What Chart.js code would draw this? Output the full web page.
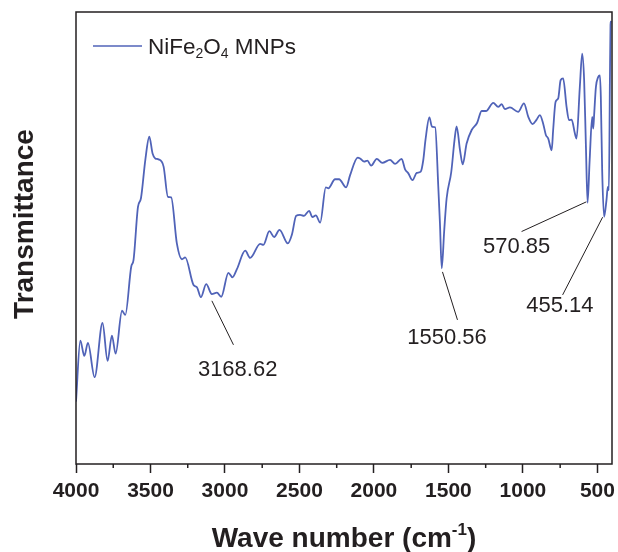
<!DOCTYPE html>
<html>
<head>
<meta charset="utf-8">
<script src="https://cdn.jsdelivr.net/npm/chart.js@4.4.1/dist/chart.umd.min.js"></script>
<style>
    html, body { margin: 0; padding: 0; background: #ffffff; }
    canvas { display: block; }
</style>
</head>
<body>
<canvas id="ftir_chart" width="618" height="552"></canvas>
<script>
// FTIR spectrum (wave number in cm-1, transmittance in arbitrary units)
var wavenumber = [
    4000, 3971, 3944, 3920, 3875, 3822, 3788, 3759, 3734, 3691,
    3669, 3629, 3614, 3584, 3564, 3535, 3508, 3486, 3468, 3446,
    3412, 3383, 3361, 3323, 3289, 3267, 3211, 3188, 3162, 3126,
    3088, 3054, 3025, 2977, 2950, 2920, 2864, 2831, 2764, 2742,
    2702, 2670, 2634, 2578, 2551, 2522, 2496, 2469, 2435, 2413,
    2390, 2361, 2323, 2306, 2261, 2234, 2187, 2160, 2109, 2093,
    2066, 2044, 2019, 1981, 1944, 1892, 1858, 1814, 1791, 1769,
    1741, 1713, 1686, 1669, 1654, 1628, 1610, 1589, 1568, 1557,
    1545, 1528, 1512, 1481, 1459, 1445, 1422, 1404, 1378, 1344,
    1307, 1277, 1248, 1199, 1166, 1143, 1121, 1087, 1032, 993,
    964, 935, 908, 886, 864, 846, 830, 807, 797, 781,
    763, 747, 730, 707, 691, 673, 651, 640, 618, 602,
    589, 577, 566, 552, 535, 528, 522, 510, 495, 483,
    477, 468, 455, 439, 430, 423, 416, 412, 408
];
var transmittance = [
    13.8, 27.3, 23.9, 26.8, 19.2, 31.2, 22.8, 28.4, 24.4, 33.9,
    33.0, 43.7, 45.1, 56.9, 58.8, 67.2, 72.4, 68.7, 67.6, 67.4,
    65.8, 59.1, 59.0, 48.8, 45.3, 45.7, 39.6, 39.1, 36.9, 39.8,
    37.6, 37.9, 37.0, 42.3, 41.3, 43.1, 47.2, 45.6, 48.7, 48.5,
    51.5, 50.2, 51.8, 48.8, 50.7, 54.9, 55.1, 54.9, 56.0, 54.6,
    55.0, 53.4, 61.2, 61.0, 63.0, 63.0, 61.2, 63.9, 67.8, 67.6,
    66.9, 67.1, 66.0, 67.5, 66.6, 67.3, 66.4, 67.5, 65.2, 64.3,
    62.8, 64.4, 64.7, 67.2, 71.7, 76.7, 74.6, 74.5, 61.3, 53.3,
    43.3, 51.8, 58.8, 64.6, 71.7, 74.7, 69.4, 66.3, 70.9, 73.9,
    75.5, 78.1, 78.1, 79.9, 79.0, 79.6, 78.5, 78.9, 77.9, 79.8,
    76.8, 75.2, 76.2, 77.2, 75.3, 72.8, 72.0, 69.4, 73.9, 80.1,
    80.9, 84.9, 85.3, 79.0, 76.1, 76.2, 73.1, 72.0, 83.4, 90.8,
    84.9, 70.2, 57.8, 67.2, 76.8, 74.2, 77.2, 83.4, 85.6, 86.0,
    81.2, 65.0, 54.7, 58.4, 61.3, 60.6, 84.9, 97.1, 98.0
];
var xTicks = [4000, 3750, 3500, 3250, 3000, 2750, 2500, 2250, 2000, 1750, 1500, 1250, 1000, 750, 500];

// peak labels and the point on the curve where each pointer starts
var peakLabels = ["3168.62", "1550.56", "570.85", "455.14"];
var peakWavenumber = [3088, 1540, 574, 465];
var peakTransmittance = [36.1, 42.5, 58.0, 54.6];

var FONT = "'Liberation Sans', Arial, Helvetica, sans-serif";
var INK = "#231f20";
var LINE_COLOR = "#5063b8";

// pointer end and text position, in pixels from the pointer start
var peakLayout = [
    { dx: 21.6, dy: 44, tx: 25.8, ty: 75 },
    { dx: 15, dy: 48, tx: 4.5, ty: 72 },
    { dx: -64.8, dy: 29.7, tx: -69.8, ty: 51 },
    { dx: -40, dy: 77.7, tx: -42.7, ty: 94.7 }
];

var spectrum = wavenumber.map((w, i) => ({ x: w, y: transmittance[i] }));

// draws a run of text pieces, some lowered (sub) or raised (sup)
function drawRichText(ctx, parts, x, y, size, weight, align) {
    var pieces = parts.map(p => {
        var s = p.mode ? Math.round(size * 0.62) : size;
        ctx.font = weight + " " + s + "px " + FONT;
        return { text: p.text, size: s, mode: p.mode, w: ctx.measureText(p.text).width };
    });
    var total = pieces.reduce((a, p) => a + p.w, 0);
    var cx = align === "center" ? x - total / 2 : x;
    ctx.textAlign = "left";
    ctx.textBaseline = "alphabetic";
    pieces.forEach(p => {
        ctx.font = weight + " " + p.size + "px " + FONT;
        var yy = y;
        if (p.mode === "sub") yy = y + size * 0.22;
        if (p.mode === "sup") yy = y - size * 0.42;
        ctx.fillText(p.text, cx, yy);
        cx += p.w;
    });
}

const framePlugin = {
    id: "frame",
    afterDatasetsDraw(chart) {
        const ctx = chart.ctx;
        const a = chart.chartArea;
        const xs = chart.scales.x;
        ctx.save();
        ctx.strokeStyle = INK;
        ctx.lineWidth = 1.5;
        ctx.strokeRect(a.left, a.top, a.right - a.left, a.bottom - a.top);

        // minor ticks
        xTicks.forEach(v => {
            if (v % 500 === 0) return;
            const px = xs.getPixelForValue(v);
            ctx.beginPath();
            ctx.moveTo(px, a.bottom);
            ctx.lineTo(px, a.bottom + 4);
            ctx.stroke();
        });

        // peak pointers and labels
        ctx.lineWidth = 1;
        ctx.fillStyle = INK;
        peakLabels.forEach((label, i) => {
            const px = xs.getPixelForValue(peakWavenumber[i]);
            const py = chart.scales.y.getPixelForValue(peakTransmittance[i]);
            const l = peakLayout[i];
            ctx.beginPath();
            ctx.moveTo(px, py);
            ctx.lineTo(px + l.dx, py + l.dy);
            ctx.stroke();
            ctx.font = "22px " + FONT;
            ctx.textAlign = "center";
            ctx.textBaseline = "alphabetic";
            ctx.fillText(label, px + l.tx, py + l.ty);
        });

        // legend
        ctx.strokeStyle = LINE_COLOR;
        ctx.lineWidth = 1.5;
        ctx.beginPath();
        ctx.moveTo(a.left + 17, 46);
        ctx.lineTo(a.left + 66, 46);
        ctx.stroke();
        drawRichText(ctx, [
            { text: "NiFe" }, { text: "2", mode: "sub" }, { text: "O" },
            { text: "4", mode: "sub" }, { text: " MNPs" }
        ], a.left + 72, 53.5, 22.5, "normal", "left");

        // axis titles
        drawRichText(ctx, [
            { text: "Wave number (cm" }, { text: "-1", mode: "sup" }, { text: ")" }
        ], (a.left + a.right) / 2, 547, 28, "bold", "center");

        ctx.save();
        ctx.translate(32.5, 224);
        ctx.rotate(-Math.PI / 2);
        drawRichText(ctx, [{ text: "Transmittance" }], 0, 0, 28, "bold", "center");
        ctx.restore();

        ctx.restore();
    }
};

const ftirChart = new Chart(document.getElementById("ftir_chart"), {
    type: "line",
    data: {
        datasets: [{
            label: "NiFe2O4 MNPs",
            data: spectrum,
            borderColor: LINE_COLOR,
            borderWidth: 1.8,
            pointRadius: 0,
            cubicInterpolationMode: "monotone",
            fill: false
        }]
    },
    options: {
        responsive: false,
        devicePixelRatio: 1,
        animation: false,
        layout: {
            padding: { top: 12, right: 6, left: 0, bottom: 0 }
        },
        scales: {
            x: {
                type: "linear",
                reverse: true,
                min: 402,
                max: 4000,
                afterBuildTicks: (scale) => {
                    scale.ticks = xTicks.map(v => ({ value: v }));
                },
                afterFit: (scale) => {
                    scale.height = 88;
                    scale.paddingLeft = 0;
                    scale.paddingRight = 0;
                },
                ticks: {
                    autoSkip: false,
                    maxRotation: 0,
                    padding: 6,
                    color: INK,
                    font: { family: FONT, size: 21, weight: "bold" },
                    callback: (value) => (value % 500 === 0 ? String(value) : "")
                },
                grid: {
                    drawOnChartArea: false,
                    tickLength: 9,
                    tickWidth: 1.5,
                    tickColor: (ctx) => (ctx.tick && ctx.tick.value % 500 === 0 ? INK : "rgba(0,0,0,0)")
                },
                border: { display: false }
            },
            y: {
                min: 0,
                max: 100,
                afterFit: (scale) => {
                    scale.width = 76;
                    scale.paddingTop = 0;
                    scale.paddingBottom = 0;
                },
                ticks: { display: false },
                grid: { display: false },
                border: { display: false }
            }
        },
        plugins: {
            legend: { display: false },
            tooltip: { enabled: false }
        }
    },
    plugins: [framePlugin]
});
</script>
</body>
</html>
